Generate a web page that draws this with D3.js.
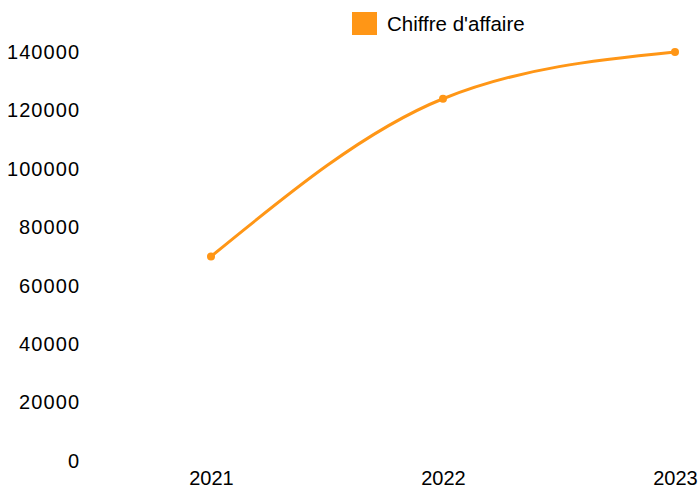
<!DOCTYPE html>
<html>
<head>
<meta charset="utf-8">
<script src="https://cdn.jsdelivr.net/npm/d3@7"></script>
<style>
  body { margin: 0; background: #fff; }
  svg { display: block; font-family: "Liberation Sans", Arial, Helvetica, sans-serif; }
</style>
</head>
<body>
<div id="chart-wrapper"></div>
<script>
const years = ["2021", "2022", "2023"];
const revenue = [70000, 124000, 140000];
const yTicks = [0, 20000, 40000, 60000, 80000, 100000, 120000, 140000];
const seriesName = "Chiffre d'affaire";

const width = 698, height = 494;
const color = "#ff9616";

const svg = d3.select("#chart-wrapper")
    .append("svg")
    .attr("width", width)
    .attr("height", height);

const x = d3.scalePoint()
    .domain(years)
    .range([211, 675]);

const y = d3.scaleLinear()
    .domain([0, 140000])
    .range([461, 52]);

// y axis labels, no line, no ticks
const yAxis = svg.append("g")
    .attr("transform", "translate(79,0)")
    .call(d3.axisLeft(y).tickValues(yTicks).tickFormat(d3.format("d")).tickSize(0).tickPadding(0));
yAxis.select(".domain").remove();
yAxis.selectAll("text")
    .attr("font-size", 20)
    .attr("font-family", null)
    .attr("textLength", d => String(d).length * 12)
    .attr("fill", "#000");

// x axis labels
const xAxis = svg.append("g")
    .attr("transform", "translate(0,471)")
    .call(d3.axisBottom(x).tickSize(0).tickPadding(0));
xAxis.select(".domain").remove();
xAxis.selectAll("text")
    .attr("font-size", 20)
    .attr("font-family", null)
    .attr("fill", "#000");

const points = years.map((yr, i) => ({ year: yr, value: revenue[i] }));

const line = d3.line()
    .x(d => x(d.year))
    .y(d => y(d.value))
    .curve(d3.curveMonotoneX);

svg.append("path")
    .datum(points)
    .attr("fill", "none")
    .attr("stroke", color)
    .attr("stroke-width", 3)
    .attr("d", line);

svg.append("g")
    .selectAll("circle")
    .data(points)
    .join("circle")
    .attr("cx", d => x(d.year))
    .attr("cy", d => y(d.value))
    .attr("r", 4)
    .attr("fill", color);

// legend
const legend = svg.append("g").attr("transform", "translate(352,12)");
legend.append("rect")
    .attr("width", 25)
    .attr("height", 23)
    .attr("fill", color);
legend.append("text")
    .attr("x", 35)
    .attr("y", 12)
    .attr("dy", "0.35em")
    .attr("font-size", 20.5)
    .attr("fill", "#000")
    .text(seriesName);
</script>
</body>
</html>
